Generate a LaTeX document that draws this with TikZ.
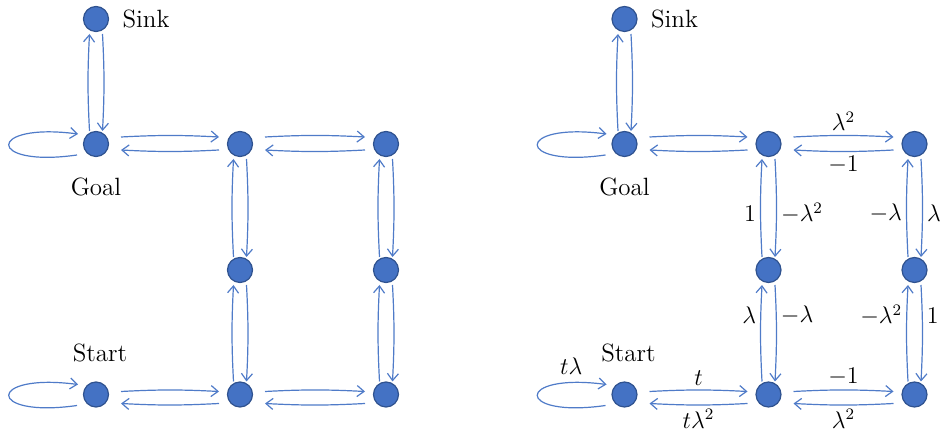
\documentclass[tikz,border=0pt]{standalone}
\usepackage{tikz}
\usetikzlibrary{arrows.meta,positioning}

\definecolor{stateblue}{HTML}{4472C4}
\definecolor{stateline}{HTML}{2F528F}
\definecolor{linkblue}{HTML}{4F7BC8}

\tikzset{
  state/.style={circle,fill=stateblue,draw=stateline,line width=0.6pt,minimum size=12.5pt,inner sep=0pt},
  statename/.style={inner sep=0pt,font=\fontsize{12.5}{15}\selectfont},
  link/.style={draw=linkblue,line width=0.6pt,-{Straight Barb[length=3.5pt,width=5.5pt]}},
  wlabel/.style={inner sep=2pt,font=\fontsize{12}{14}\selectfont},
}

% two arcs between horizontal neighbours
\newcommand{\hpair}[6]{%
  \draw[link] ([shift={(25,#3)}]#1.center) to[bend left=3] node[wlabel,above]{#5} ([shift={(-21,#3)}]#2.center);
  \draw[link] ([shift={(-21,#4)}]#2.center) to[bend left=3] node[wlabel,below]{#6} ([shift={(25,#4)}]#1.center);
}
% two arcs between vertical neighbours (up on the left, down on the right)
\newcommand{\vpair}[6]{%
  \draw[link] ([shift={(-6.5,-13)}]#2.center) to[bend left=3] node[wlabel,left,pos=#4]{#3} ([shift={(-6.5,15)}]#1.center);
  \draw[link] ([shift={(6.5,15)}]#1.center) to[bend left=3] node[wlabel,right,pos=#6]{#5} ([shift={(6.5,-13)}]#2.center);
}
% loop on the left of a state
\newcommand{\selfloop}[2]{%
  \draw[link] ([shift={(-19,11)}]#1.center) .. controls ([shift={(-110,24)}]#1.center) and ([shift={(-110,-22)}]#1.center) .. ([shift={(-18,-10)}]#1.center) node[wlabel,above=2pt,pos=0.85]{#2};
}

\begin{document}
\begin{tikzpicture}[x=0.5pt,y=-0.5pt]
\useasboundingbox (0,0) rectangle (948,437);

% the same grid of states, twice
\foreach \g/\dx in {l/0,r/528.5}{
  \begin{scope}[shift={(\dx,0)}]
    \node[state] (sink\g) at (96,19) {};
    \node[state] (goal\g) at (96,144) {};
    \node[state] (start\g) at (96,394.5) {};
    \node[state] (t1\g) at (240,144) {};
    \node[state] (t2\g) at (386,144) {};
    \node[state] (m1\g) at (240,270) {};
    \node[state] (m2\g) at (386,270) {};
    \node[state] (b1\g) at (240,394.5) {};
    \node[state] (b2\g) at (386,394.5) {};
    \node[statename,right=6.5pt of sink\g] (sinktxt\g) {Sink};
    \node[statename,below=10pt of goal\g] (goaltxt\g) {Goal};
    \node[statename,above=9.5pt of start\g,xshift=2pt] (starttxt\g) {Start};
  \end{scope}
}

% left graph
\selfloop{goall}{}
\selfloop{startl}{}
\vpair{sinkl}{goall}{}{0.5}{}{0.5}
\hpair{goall}{t1l}{-7}{6}{}{}
\hpair{t1l}{t2l}{-7}{6}{}{}
\hpair{startl}{b1l}{-3}{9}{}{}
\hpair{b1l}{b2l}{-3}{9}{}{}
\vpair{t1l}{m1l}{}{0.5}{}{0.5}
\vpair{t2l}{m2l}{}{0.5}{}{0.5}
\vpair{m1l}{b1l}{}{0.5}{}{0.5}
\vpair{m2l}{b2l}{}{0.5}{}{0.5}

% right graph, with weights
\selfloop{goalr}{}
\selfloop{startr}{$t\lambda$}
\vpair{sinkr}{goalr}{}{0.5}{}{0.5}
\hpair{goalr}{t1r}{-7}{6}{}{}
\hpair{t1r}{t2r}{-7}{6}{$\lambda^2$}{$-1$}
\hpair{startr}{b1r}{-3}{9}{$t$}{$t\lambda^2$}
\hpair{b1r}{b2r}{-3}{9}{$-1$}{$\lambda^2$}
\vpair{t1r}{m1r}{$1$}{0.44}{$-\lambda^2$}{0.56}
\vpair{t2r}{m2r}{$-\lambda$}{0.44}{$\lambda$}{0.56}
\vpair{m1r}{b1r}{$\lambda$}{0.7}{$-\lambda$}{0.3}
\vpair{m2r}{b2r}{$-\lambda^2$}{0.7}{$1$}{0.3}
\end{tikzpicture}
\end{document}
